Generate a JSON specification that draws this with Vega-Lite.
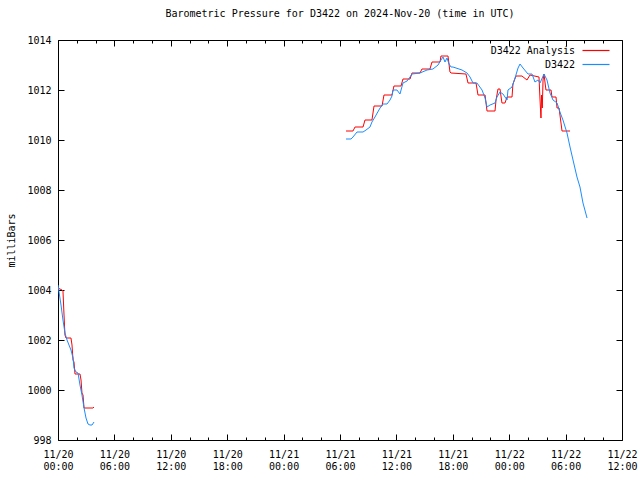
{
  "$schema": "https://vega.github.io/schema/vega-lite/v6.json",
  "width": 564,
  "height": 400,
  "autosize": {"type": "none"},
  "padding": {"left": 58, "top": 40, "right": 18, "bottom": 40},
  "background": "white",
  "title": {"text": "Barometric Pressure for D3422 on 2024-Nov-20 (time in UTC)", "font": "DejaVu Sans Mono", "fontSize": 10, "fontWeight": "normal", "color": "black", "anchor": "middle", "offset": 16},
  "config": {
    "view": {"stroke": "black", "strokeWidth": 1},
    "axis": {"domain": false, "grid": false, "tickColor": "black", "labelColor": "black", "labelFont": "DejaVu Sans Mono", "labelFontSize": 10, "titleFont": "DejaVu Sans Mono", "titleFontSize": 10, "titleFontWeight": "normal", "titleColor": "black", "labelOverlap": false, "labelFlush": false, "labelBound": false}
  },
  "data": {"values": [
    {"series": "D3422 Analysis", "segment": 1, "hour": 0.00, "mbar": 1004.08},
    {"series": "D3422 Analysis", "segment": 1, "hour": 0.43, "mbar": 1004.00},
    {"series": "D3422 Analysis", "segment": 1, "hour": 0.53, "mbar": 1003.96},
    {"series": "D3422 Analysis", "segment": 1, "hour": 0.64, "mbar": 1003.00},
    {"series": "D3422 Analysis", "segment": 1, "hour": 0.74, "mbar": 1002.20},
    {"series": "D3422 Analysis", "segment": 1, "hour": 0.85, "mbar": 1002.08},
    {"series": "D3422 Analysis", "segment": 1, "hour": 1.38, "mbar": 1002.08},
    {"series": "D3422 Analysis", "segment": 1, "hour": 1.49, "mbar": 1001.80},
    {"series": "D3422 Analysis", "segment": 1, "hour": 1.60, "mbar": 1001.20},
    {"series": "D3422 Analysis", "segment": 1, "hour": 1.70, "mbar": 1001.12},
    {"series": "D3422 Analysis", "segment": 1, "hour": 1.81, "mbar": 1000.64},
    {"series": "D3422 Analysis", "segment": 1, "hour": 2.34, "mbar": 1000.64},
    {"series": "D3422 Analysis", "segment": 1, "hour": 2.45, "mbar": 1000.40},
    {"series": "D3422 Analysis", "segment": 1, "hour": 2.55, "mbar": 999.88},
    {"series": "D3422 Analysis", "segment": 1, "hour": 2.66, "mbar": 999.80},
    {"series": "D3422 Analysis", "segment": 1, "hour": 2.77, "mbar": 999.28},
    {"series": "D3422 Analysis", "segment": 1, "hour": 3.72, "mbar": 999.28},
    {"series": "D3422 Analysis", "segment": 1, "hour": 3.83, "mbar": 999.32},

    {"series": "D3422", "segment": 1, "hour": 0.00, "mbar": 1004.20},
    {"series": "D3422", "segment": 1, "hour": 0.11, "mbar": 1003.92},
    {"series": "D3422", "segment": 1, "hour": 0.32, "mbar": 1003.40},
    {"series": "D3422", "segment": 1, "hour": 0.53, "mbar": 1002.80},
    {"series": "D3422", "segment": 1, "hour": 0.74, "mbar": 1002.28},
    {"series": "D3422", "segment": 1, "hour": 0.96, "mbar": 1002.00},
    {"series": "D3422", "segment": 1, "hour": 1.17, "mbar": 1001.80},
    {"series": "D3422", "segment": 1, "hour": 1.38, "mbar": 1001.60},
    {"series": "D3422", "segment": 1, "hour": 1.60, "mbar": 1001.28},
    {"series": "D3422", "segment": 1, "hour": 1.70, "mbar": 1000.88},
    {"series": "D3422", "segment": 1, "hour": 1.91, "mbar": 1000.72},
    {"series": "D3422", "segment": 1, "hour": 2.13, "mbar": 1000.68},
    {"series": "D3422", "segment": 1, "hour": 2.34, "mbar": 1000.20},
    {"series": "D3422", "segment": 1, "hour": 2.55, "mbar": 999.80},
    {"series": "D3422", "segment": 1, "hour": 2.77, "mbar": 999.28},
    {"series": "D3422", "segment": 1, "hour": 2.98, "mbar": 998.88},
    {"series": "D3422", "segment": 1, "hour": 3.19, "mbar": 998.64},
    {"series": "D3422", "segment": 1, "hour": 3.40, "mbar": 998.60},
    {"series": "D3422", "segment": 1, "hour": 3.62, "mbar": 998.60},
    {"series": "D3422", "segment": 1, "hour": 3.83, "mbar": 998.72},

    {"series": "D3422 Analysis", "segment": 2, "hour": 30.64, "mbar": 1010.36},
    {"series": "D3422 Analysis", "segment": 2, "hour": 31.38, "mbar": 1010.36},
    {"series": "D3422 Analysis", "segment": 2, "hour": 31.60, "mbar": 1010.52},
    {"series": "D3422 Analysis", "segment": 2, "hour": 32.45, "mbar": 1010.52},
    {"series": "D3422 Analysis", "segment": 2, "hour": 32.66, "mbar": 1010.80},
    {"series": "D3422 Analysis", "segment": 2, "hour": 33.40, "mbar": 1010.80},
    {"series": "D3422 Analysis", "segment": 2, "hour": 33.62, "mbar": 1011.36},
    {"series": "D3422 Analysis", "segment": 2, "hour": 34.47, "mbar": 1011.36},
    {"series": "D3422 Analysis", "segment": 2, "hour": 34.68, "mbar": 1011.80},
    {"series": "D3422 Analysis", "segment": 2, "hour": 35.53, "mbar": 1011.80},
    {"series": "D3422 Analysis", "segment": 2, "hour": 35.74, "mbar": 1012.16},
    {"series": "D3422 Analysis", "segment": 2, "hour": 36.49, "mbar": 1012.16},
    {"series": "D3422 Analysis", "segment": 2, "hour": 36.70, "mbar": 1012.44},
    {"series": "D3422 Analysis", "segment": 2, "hour": 37.45, "mbar": 1012.44},
    {"series": "D3422 Analysis", "segment": 2, "hour": 37.66, "mbar": 1012.68},
    {"series": "D3422 Analysis", "segment": 2, "hour": 38.51, "mbar": 1012.68},
    {"series": "D3422 Analysis", "segment": 2, "hour": 38.72, "mbar": 1012.84},
    {"series": "D3422 Analysis", "segment": 2, "hour": 39.57, "mbar": 1012.84},
    {"series": "D3422 Analysis", "segment": 2, "hour": 39.79, "mbar": 1013.12},
    {"series": "D3422 Analysis", "segment": 2, "hour": 40.64, "mbar": 1013.12},
    {"series": "D3422 Analysis", "segment": 2, "hour": 40.74, "mbar": 1013.36},
    {"series": "D3422 Analysis", "segment": 2, "hour": 41.49, "mbar": 1013.36},
    {"series": "D3422 Analysis", "segment": 2, "hour": 41.70, "mbar": 1012.72},
    {"series": "D3422 Analysis", "segment": 2, "hour": 41.81, "mbar": 1012.68},
    {"series": "D3422 Analysis", "segment": 2, "hour": 43.40, "mbar": 1012.64},
    {"series": "D3422 Analysis", "segment": 2, "hour": 43.62, "mbar": 1012.28},
    {"series": "D3422 Analysis", "segment": 2, "hour": 44.47, "mbar": 1012.28},
    {"series": "D3422 Analysis", "segment": 2, "hour": 44.68, "mbar": 1011.80},
    {"series": "D3422 Analysis", "segment": 2, "hour": 45.43, "mbar": 1011.80},
    {"series": "D3422 Analysis", "segment": 2, "hour": 45.64, "mbar": 1011.16},
    {"series": "D3422 Analysis", "segment": 2, "hour": 46.49, "mbar": 1011.16},
    {"series": "D3422 Analysis", "segment": 2, "hour": 46.60, "mbar": 1011.60},
    {"series": "D3422 Analysis", "segment": 2, "hour": 46.81, "mbar": 1012.04},
    {"series": "D3422 Analysis", "segment": 2, "hour": 47.02, "mbar": 1012.04},
    {"series": "D3422 Analysis", "segment": 2, "hour": 47.23, "mbar": 1011.48},
    {"series": "D3422 Analysis", "segment": 2, "hour": 47.55, "mbar": 1011.48},
    {"series": "D3422 Analysis", "segment": 2, "hour": 47.77, "mbar": 1011.72},
    {"series": "D3422 Analysis", "segment": 2, "hour": 48.30, "mbar": 1011.72},
    {"series": "D3422 Analysis", "segment": 2, "hour": 48.40, "mbar": 1012.24},
    {"series": "D3422 Analysis", "segment": 2, "hour": 48.72, "mbar": 1012.56},
    {"series": "D3422 Analysis", "segment": 2, "hour": 49.36, "mbar": 1012.56},
    {"series": "D3422 Analysis", "segment": 2, "hour": 49.89, "mbar": 1012.40},
    {"series": "D3422 Analysis", "segment": 2, "hour": 50.21, "mbar": 1012.60},
    {"series": "D3422 Analysis", "segment": 2, "hour": 51.17, "mbar": 1012.52},
    {"series": "D3422 Analysis", "segment": 2, "hour": 51.28, "mbar": 1011.60},
    {"series": "D3422 Analysis", "segment": 2, "hour": 51.38, "mbar": 1010.88},
    {"series": "D3422 Analysis", "segment": 2, "hour": 51.44, "mbar": 1011.80},
    {"series": "D3422 Analysis", "segment": 2, "hour": 51.52, "mbar": 1011.28},
    {"series": "D3422 Analysis", "segment": 2, "hour": 51.60, "mbar": 1012.40},
    {"series": "D3422 Analysis", "segment": 2, "hour": 51.70, "mbar": 1012.64},
    {"series": "D3422 Analysis", "segment": 2, "hour": 51.91, "mbar": 1012.00},
    {"series": "D3422 Analysis", "segment": 2, "hour": 52.45, "mbar": 1012.00},
    {"series": "D3422 Analysis", "segment": 2, "hour": 52.55, "mbar": 1011.72},
    {"series": "D3422 Analysis", "segment": 2, "hour": 52.98, "mbar": 1011.72},
    {"series": "D3422 Analysis", "segment": 2, "hour": 53.09, "mbar": 1011.28},
    {"series": "D3422 Analysis", "segment": 2, "hour": 53.30, "mbar": 1011.28},
    {"series": "D3422 Analysis", "segment": 2, "hour": 53.40, "mbar": 1011.00},
    {"series": "D3422 Analysis", "segment": 2, "hour": 53.62, "mbar": 1010.36},
    {"series": "D3422 Analysis", "segment": 2, "hour": 54.47, "mbar": 1010.36},

    {"series": "D3422", "segment": 2, "hour": 30.64, "mbar": 1010.04},
    {"series": "D3422", "segment": 2, "hour": 31.17, "mbar": 1010.04},
    {"series": "D3422", "segment": 2, "hour": 31.38, "mbar": 1010.12},
    {"series": "D3422", "segment": 2, "hour": 31.81, "mbar": 1010.32},
    {"series": "D3422", "segment": 2, "hour": 32.45, "mbar": 1010.32},
    {"series": "D3422", "segment": 2, "hour": 32.77, "mbar": 1010.40},
    {"series": "D3422", "segment": 2, "hour": 33.19, "mbar": 1010.52},
    {"series": "D3422", "segment": 2, "hour": 33.40, "mbar": 1010.72},
    {"series": "D3422", "segment": 2, "hour": 33.72, "mbar": 1010.92},
    {"series": "D3422", "segment": 2, "hour": 34.26, "mbar": 1011.28},
    {"series": "D3422", "segment": 2, "hour": 34.57, "mbar": 1011.44},
    {"series": "D3422", "segment": 2, "hour": 35.00, "mbar": 1011.44},
    {"series": "D3422", "segment": 2, "hour": 35.32, "mbar": 1011.60},
    {"series": "D3422", "segment": 2, "hour": 35.53, "mbar": 1011.76},
    {"series": "D3422", "segment": 2, "hour": 35.64, "mbar": 1012.00},
    {"series": "D3422", "segment": 2, "hour": 36.06, "mbar": 1012.00},
    {"series": "D3422", "segment": 2, "hour": 36.38, "mbar": 1011.84},
    {"series": "D3422", "segment": 2, "hour": 36.70, "mbar": 1012.28},
    {"series": "D3422", "segment": 2, "hour": 37.13, "mbar": 1012.36},
    {"series": "D3422", "segment": 2, "hour": 37.45, "mbar": 1012.52},
    {"series": "D3422", "segment": 2, "hour": 37.66, "mbar": 1012.64},
    {"series": "D3422", "segment": 2, "hour": 38.51, "mbar": 1012.68},
    {"series": "D3422", "segment": 2, "hour": 39.26, "mbar": 1012.80},
    {"series": "D3422", "segment": 2, "hour": 39.89, "mbar": 1012.84},
    {"series": "D3422", "segment": 2, "hour": 40.43, "mbar": 1013.00},
    {"series": "D3422", "segment": 2, "hour": 40.74, "mbar": 1013.20},
    {"series": "D3422", "segment": 2, "hour": 40.96, "mbar": 1013.32},
    {"series": "D3422", "segment": 2, "hour": 41.17, "mbar": 1013.12},
    {"series": "D3422", "segment": 2, "hour": 41.38, "mbar": 1013.28},
    {"series": "D3422", "segment": 2, "hour": 41.60, "mbar": 1013.04},
    {"series": "D3422", "segment": 2, "hour": 41.81, "mbar": 1012.92},
    {"series": "D3422", "segment": 2, "hour": 42.02, "mbar": 1012.92},
    {"series": "D3422", "segment": 2, "hour": 42.98, "mbar": 1012.80},
    {"series": "D3422", "segment": 2, "hour": 43.51, "mbar": 1012.68},
    {"series": "D3422", "segment": 2, "hour": 43.83, "mbar": 1012.52},
    {"series": "D3422", "segment": 2, "hour": 44.15, "mbar": 1012.28},
    {"series": "D3422", "segment": 2, "hour": 44.57, "mbar": 1012.28},
    {"series": "D3422", "segment": 2, "hour": 45.11, "mbar": 1012.00},
    {"series": "D3422", "segment": 2, "hour": 45.43, "mbar": 1011.68},
    {"series": "D3422", "segment": 2, "hour": 45.64, "mbar": 1011.32},
    {"series": "D3422", "segment": 2, "hour": 45.96, "mbar": 1011.40},
    {"series": "D3422", "segment": 2, "hour": 46.49, "mbar": 1011.48},
    {"series": "D3422", "segment": 2, "hour": 46.70, "mbar": 1011.72},
    {"series": "D3422", "segment": 2, "hour": 47.02, "mbar": 1011.92},
    {"series": "D3422", "segment": 2, "hour": 47.34, "mbar": 1011.84},
    {"series": "D3422", "segment": 2, "hour": 47.77, "mbar": 1011.60},
    {"series": "D3422", "segment": 2, "hour": 47.87, "mbar": 1012.00},
    {"series": "D3422", "segment": 2, "hour": 48.30, "mbar": 1012.12},
    {"series": "D3422", "segment": 2, "hour": 48.62, "mbar": 1012.48},
    {"series": "D3422", "segment": 2, "hour": 48.94, "mbar": 1012.88},
    {"series": "D3422", "segment": 2, "hour": 49.15, "mbar": 1013.04},
    {"series": "D3422", "segment": 2, "hour": 49.47, "mbar": 1012.88},
    {"series": "D3422", "segment": 2, "hour": 50.00, "mbar": 1012.64},
    {"series": "D3422", "segment": 2, "hour": 50.43, "mbar": 1012.64},
    {"series": "D3422", "segment": 2, "hour": 50.74, "mbar": 1012.32},
    {"series": "D3422", "segment": 2, "hour": 51.06, "mbar": 1012.40},
    {"series": "D3422", "segment": 2, "hour": 51.28, "mbar": 1012.28},
    {"series": "D3422", "segment": 2, "hour": 51.70, "mbar": 1012.64},
    {"series": "D3422", "segment": 2, "hour": 52.02, "mbar": 1012.40},
    {"series": "D3422", "segment": 2, "hour": 52.34, "mbar": 1011.88},
    {"series": "D3422", "segment": 2, "hour": 52.66, "mbar": 1011.60},
    {"series": "D3422", "segment": 2, "hour": 53.09, "mbar": 1011.48},
    {"series": "D3422", "segment": 2, "hour": 53.40, "mbar": 1011.12},
    {"series": "D3422", "segment": 2, "hour": 53.72, "mbar": 1010.80},
    {"series": "D3422", "segment": 2, "hour": 54.15, "mbar": 1010.28},
    {"series": "D3422", "segment": 2, "hour": 54.47, "mbar": 1009.72},
    {"series": "D3422", "segment": 2, "hour": 54.79, "mbar": 1009.20},
    {"series": "D3422", "segment": 2, "hour": 55.21, "mbar": 1008.52},
    {"series": "D3422", "segment": 2, "hour": 55.53, "mbar": 1008.12},
    {"series": "D3422", "segment": 2, "hour": 55.85, "mbar": 1007.48},
    {"series": "D3422", "segment": 2, "hour": 56.28, "mbar": 1006.88}
  ]},
  "resolve": {"axis": {"x": "independent", "y": "independent"}},
  "layer": [
    {
      "mark": {"type": "line", "strokeWidth": 1, "clip": true},
      "encoding": {
        "x": {"field": "hour", "type": "quantitative", "scale": {"domain": [0, 60], "nice": false, "zero": false},
          "axis": {"orient": "bottom", "title": null, "values": [0,2,4,6,8,10,12,14,16,18,20,22,24,26,28,30,32,34,36,38,40,42,44,46,48,50,52,54,56,58,60],
            "tickSize": {"condition": {"test": "datum.value % 6 == 0", "value": -6}, "value": -3},
            "labelPadding": 15, "labelBaseline": "top", "labelLineHeight": 12,
            "labelExpr": "datum.value % 6 == 0 ? ['11/' + (20 + floor(datum.value / 24)), (datum.value % 24 < 10 ? '0' : '') + (datum.value % 24) + ':00'] : ''"}},
        "y": {"field": "mbar", "type": "quantitative", "scale": {"domain": [998, 1014], "nice": false, "zero": false},
          "axis": {"orient": "left", "title": "milliBars", "format": "d", "values": [998,1000,1002,1004,1006,1008,1010,1012,1014], "tickSize": -6, "labelPadding": 13, "titlePadding": 10}},
        "color": {"field": "series", "type": "nominal", "scale": {"domain": ["D3422 Analysis", "D3422"], "range": ["#ff0000", "#1a8cff"]},
          "legend": {"title": null, "orient": "none", "legendX": 532, "legendY": 4.5, "padding": 0, "symbolType": "M-2.7,0H2.7", "symbolSize": 100, "symbolStrokeWidth": 1.2, "labelAlign": "right", "labelOffset": -27, "labelFont": "DejaVu Sans Mono", "labelFontSize": 10, "labelColor": "black", "rowPadding": 3}},
        "detail": {"field": "segment", "type": "nominal"}
      }
    },
    {
      "mark": {"type": "line", "strokeOpacity": 0},
      "encoding": {
        "x": {"field": "hour", "type": "quantitative",
          "axis": {"orient": "top", "title": null, "labels": false, "values": [0,2,4,6,8,10,12,14,16,18,20,22,24,26,28,30,32,34,36,38,40,42,44,46,48,50,52,54,56,58,60],
            "tickSize": {"condition": {"test": "datum.value % 6 == 0", "value": -6}, "value": -3}}},
        "y": {"field": "mbar", "type": "quantitative",
          "axis": {"orient": "right", "title": null, "labels": false, "values": [998,1000,1002,1004,1006,1008,1010,1012,1014], "tickSize": -6}},
        "detail": {"field": "segment", "type": "nominal"}
      }
    }
  ]
}
